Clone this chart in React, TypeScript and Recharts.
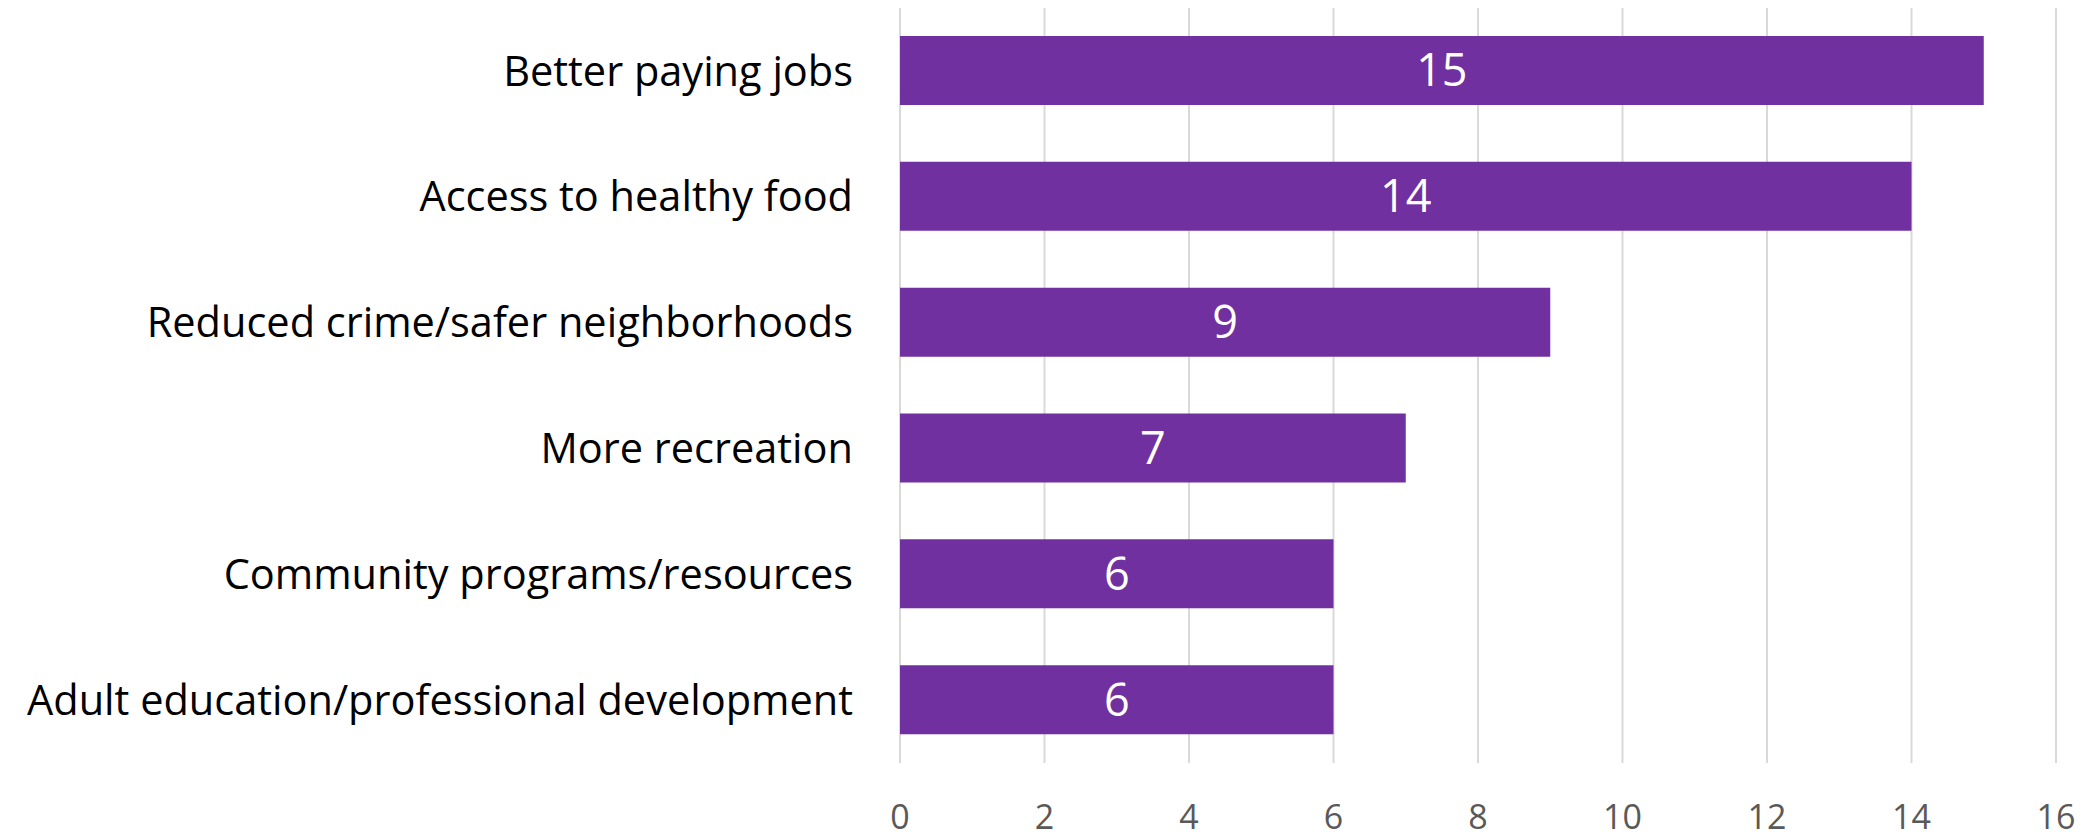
import { BarChart, Bar, XAxis, YAxis, CartesianGrid, LabelList } from 'recharts';

// categories, top to bottom
const categories = [
  "Better paying jobs",
  "Access to healthy food",
  "Reduced crime/safer neighborhoods",
  "More recreation",
  "Community programs/resources",
  "Adult education/professional development",
];

const counts = [15, 14, 9, 7, 6, 6];

const xTicks = [0, 2, 4, 6, 8, 10, 12, 14, 16];

const data = categories.map((name, i) => ({ name, value: counts[i] }));

const FONT = "'Open Sans', sans-serif";

export default function App() {
  return (
    <div style={{ width: 2097, height: 839, background: '#fff' }}>
      <style>{`body { margin: 0; }`}</style>
      <BarChart
        width={2097}
        height={839}
        data={data}
        layout="vertical"
        margin={{ top: 8, right: 41, left: 0, bottom: 0 }}
      >
        {/* only vertical grid lines, light gray */}
        <CartesianGrid horizontal={false} vertical stroke="#d9d9d9" strokeWidth={2} />

        <XAxis
          type="number"
          domain={[0, 16]}
          ticks={xTicks}
          axisLine={false}
          tickLine={false}
          tickSize={0}
          tickMargin={42}
          height={76}
          tick={{ fill: '#595959', fontSize: 34, fontFamily: FONT }}
          interval={0}
        />

        <YAxis
          type="category"
          dataKey="name"
          width={900}
          axisLine={false}
          tickLine={false}
          tickSize={0}
          tickMargin={47}
          tick={{ fill: '#000000', fontSize: 41.5, fontFamily: FONT }}
          interval={0}
        />

        <Bar dataKey="value" fill="#7030A0" barSize={69} isAnimationActive={false}>
          <LabelList
            dataKey="value"
            position="center"
            fill="#ffffff"
            fontSize={45}
            fontFamily={FONT}
          />
        </Bar>
      </BarChart>
    </div>
  );
}
